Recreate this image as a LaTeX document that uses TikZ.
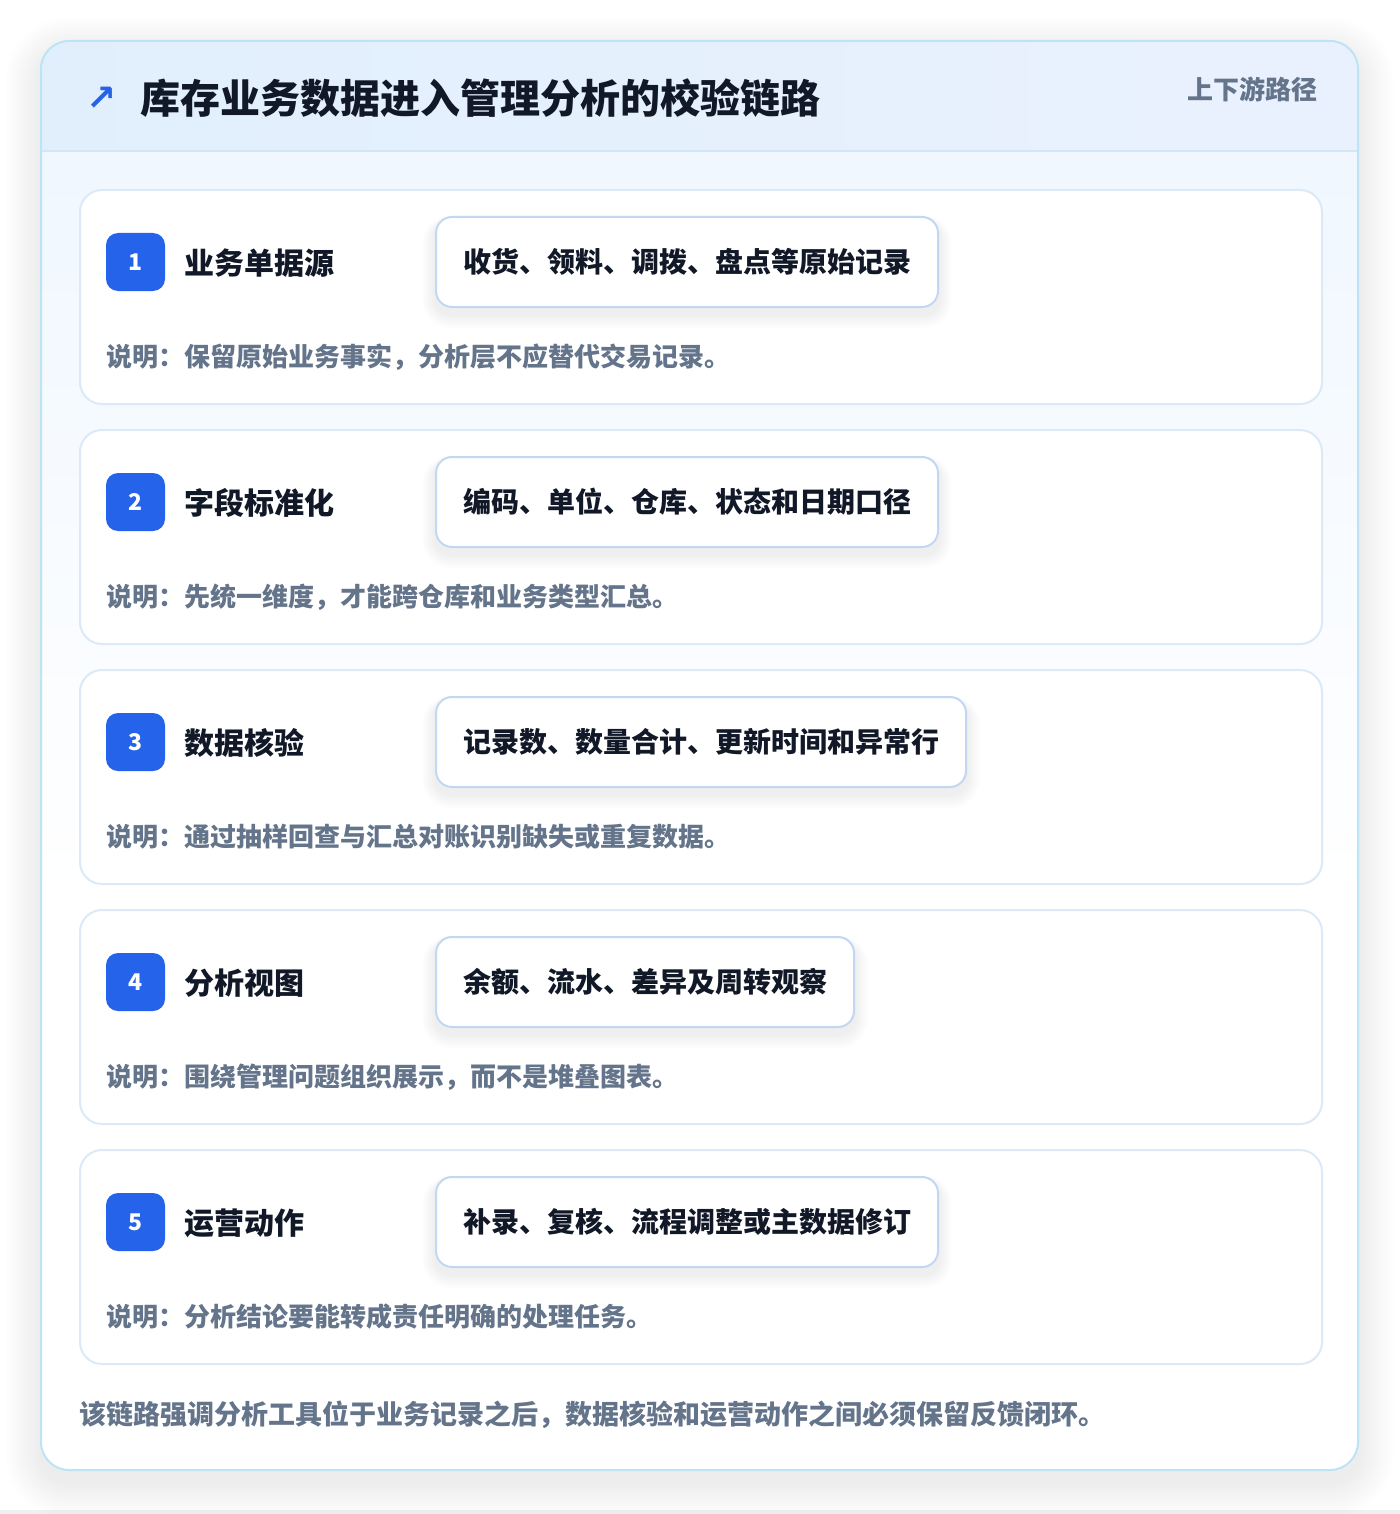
\documentclass[tikz,border=0pt]{standalone}
\usepackage{fontspec}
\setmainfont{Noto Sans CJK SC}
\newfontfamily\symfont{DejaVu Sans}

\definecolor{panelline}{HTML}{BDE3F7}
\definecolor{headleft}{HTML}{E1EFFC}
\definecolor{headright}{HTML}{EAF1FE}
\definecolor{headrule}{HTML}{D2E6F8}
\definecolor{bodytop}{HTML}{F0F7FF}
\definecolor{cardline}{HTML}{DCE9F6}
\definecolor{pillline}{HTML}{C3D7F3}
\definecolor{badgeblue}{HTML}{2563EB}
\definecolor{inkdark}{HTML}{111827}
\definecolor{inkgray}{HTML}{64748B}

\pgfdeclarelayer{back}
\pgfdeclarelayer{mid}
\pgfsetlayers{back,mid,main}

\tikzset{
  card/.style={draw=cardline, line width=1pt, fill=white, rounded corners=11pt,
    minimum width=621pt, minimum height=107pt, inner sep=0pt, anchor=north west},
  badge/.style={fill=badgeblue, rounded corners=6pt, minimum width=29.5pt,
    minimum height=29pt, inner sep=0pt, text=white,
    font=\bfseries\fontsize{11.5}{11.5}\selectfont},
  steptitle/.style={anchor=west, inner sep=0pt, text=inkdark,
    font=\bfseries\fontsize{15}{15}\selectfont},
  pill/.style={anchor=west, draw=pillline, line width=1pt, fill=white,
    rounded corners=8pt, minimum height=45pt, inner xsep=13.5pt, inner ysep=0pt,
    text=inkdark, font=\bfseries\fontsize{14}{14}\selectfont},
  softshade/.style={fill=black, opacity=#1},
  note/.style={anchor=west, inner sep=0pt, text=inkgray,
    font=\bfseries\fontsize{13}{13}\selectfont},
}

\begin{document}
\begin{tikzpicture}[x=0.5pt, y=-0.5pt]

    % page
    \useasboundingbox (0,0) rectangle (1400,1514);

    \begin{pgfonlayer}{back}
    \fill[white] (0,0) rectangle (1400,1514);
    \fill[black!6] (0,1510) rectangle (1400,1514);

    % soft shadow of the panel
    \foreach \k in {1,...,18} {
        \fill[softshade=0.0045, rounded corners=14pt+\k*1pt]
            (41-2*\k,41-2*\k+12) rectangle (1358+2*\k,1470+2*\k+12);
    }

    % outer panel with header band
    \fill[white, rounded corners=14pt] (41,41) rectangle (1358,1470);
    \begin{scope}
        \clip[rounded corners=14pt] (41,41) rectangle (1358,1470);
        \shade[top color=bodytop, bottom color=white] (41,151) rectangle (1358,900);
        \shade[left color=headleft, right color=headright] (41,41) rectangle (1358,151);
        \draw[headrule, line width=1pt] (41,151) -- (1358,151);
    \end{scope}
    \draw[panelline, line width=1pt, rounded corners=14pt] (41,41) rectangle (1358,1470);
    \end{pgfonlayer}

    % header texts
    \node[text=badgeblue, font=\symfont\bfseries\fontsize{18}{18}\selectfont, inner sep=0pt]
        (icon) at (102,99) {↗};
    \node[anchor=west, inner sep=0pt, text=inkdark,
        font=\bfseries\fontsize{20}{20}\selectfont] (title) at (140,98)
        {库存业务数据进入管理分析的校验链路};
    \node[anchor=east, inner sep=0pt, text=inkgray,
        font=\bfseries\fontsize{13}{13}\selectfont] (route) at (1318,89) {上下游路径};

    % steps
    \foreach \i/\name/\detail/\remark in {
        1/业务单据源/收货、领料、调拨、盘点等原始记录/说明：保留原始业务事实，分析层不应替代交易记录。,
        2/字段标准化/编码、单位、仓库、状态和日期口径/说明：先统一维度，才能跨仓库和业务类型汇总。,
        3/数据核验/记录数、数量合计、更新时间和异常行/说明：通过抽样回查与汇总对账识别缺失或重复数据。,
        4/分析视图/余额、流水、差异及周转观察/说明：围绕管理问题组织展示，而不是堆叠图表。,
        5/运营动作/补录、复核、流程调整或主数据修订/说明：分析结论要能转成责任明确的处理任务。} {
        \pgfmathtruncatemacro\top{189+240*(\i-1)}
        \begin{pgfonlayer}{back}
        \node[card] (card\i) at (79,\top) {};
        \end{pgfonlayer}
        \node[badge] (badge\i) at (135.5,\top+73) {\i};
        \node[steptitle] (name\i) at (184,\top+74) {\name};
        \node[pill] (detail\i) at (435,\top+73) {\detail};
        \node[note] (remark\i) at (106,\top+168) {\remark};
        % shadow under the pill
        \begin{pgfonlayer}{mid}
        \foreach \k in {1,...,8} {
            \fill[softshade=0.009, rounded corners=8pt+\k*0.8pt]
                ([xshift=-\k*0.8pt, yshift=-3pt-\k*0.9pt]detail\i.south west)
                rectangle ([xshift=\k*0.8pt, yshift=-3pt+\k*0.4pt]detail\i.north east);
        }
        \end{pgfonlayer}
    }

    % footer
    \node[anchor=west, inner sep=0pt, text=inkgray,
        font=\bfseries\fontsize{13.5}{13.5}\selectfont] (summary) at (79,1415)
        {该链路强调分析工具位于业务记录之后，数据核验和运营动作之间必须保留反馈闭环。};

\end{tikzpicture}
\end{document}
